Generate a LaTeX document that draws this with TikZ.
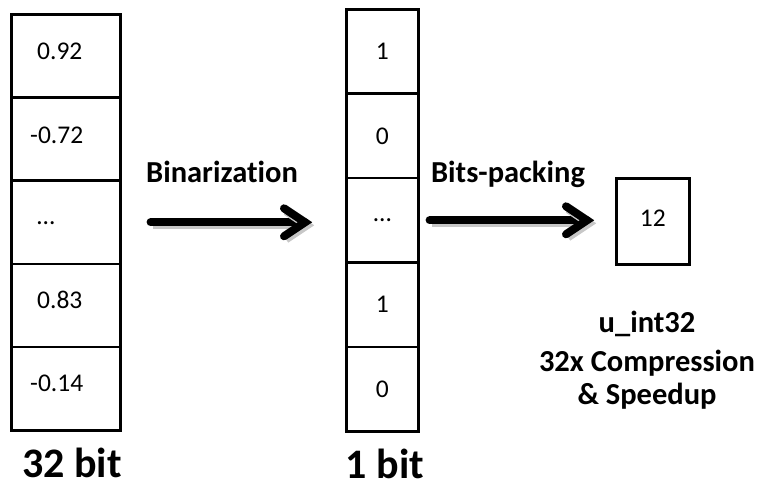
\documentclass[tikz,border=0pt]{standalone}
\usepackage{fontspec}
\setmainfont[Ligatures=NoCommon]{Carlito}
\usetikzlibrary{calc}
\begin{document}
\begin{tikzpicture}[x=1pt,y=-1pt,
  lcell/.style={draw, line width=2.6pt, minimum width=109pt, minimum height=83.2pt, inner sep=0pt, anchor=north west},
  mcell/.style={draw, line width=2.6pt, minimum width=72pt, minimum height=84.4pt, inner sep=0pt, anchor=north west, font=\fontsize{25.5}{30}\selectfont},
  pbox/.style={draw, line width=2.6pt, minimum width=73pt, minimum height=86pt, inner sep=0pt, anchor=north west},
  val/.style={inner sep=0pt, anchor=base west, font=\fontsize{25.5}{30}\selectfont},
  lab/.style={inner sep=0pt, anchor=base, font=\fontsize{30.5}{36}\selectfont\bfseries},
  biglab/.style={inner sep=0pt, anchor=base, font=\fontsize{42}{48}\selectfont\bfseries},
  arr/.style={line width=8pt, line cap=round, line join=miter,
    preaction={draw, black!22, line width=8pt, transform canvas={xshift=2pt, yshift=-3pt}}}
]
\useasboundingbox (0,0) rectangle (763,489);
% left column
\node[lcell] (L1) at (10,13) {};
\node[lcell] (L2) at (10,96.2) {};
\node[lcell] (L3) at (10,179.4) {};
\node[lcell] (L4) at (10,262.6) {};
\node[lcell] (L5) at (10,345.8) {};
\node[val] (v1) at ($(L1.west)+(27,4)$) {0.92};
\node[val] (v2) at ($(L2.west)+(20,4)$) {-0.72};
\node[val] (v3) at ($(L3.west)+(27,2)$) {…};
\node[val] (v4) at ($(L4.west)+(27,3)$) {0.83};
\node[val] (v5) at ($(L5.west)+(20,3)$) {-0.14};
% middle column
\node[mcell] (M1) at (345,8) {1};
\node[mcell] (M2) at (345,92.4) {0};
\node[mcell] (M3) at (345,176.8) {…};
\node[mcell] (M4) at (345,261.2) {1};
\node[mcell] (M5) at (345,345.6) {0};
% packed box
\node[pbox] (B) at (615,177) {};
\node[val, anchor=center] (b12) at ($(B.center)+(0,-3)$) {12};
% arrows
\coordinate (a1s) at ($(L3.east)+(29,0)$);
\coordinate (a1x) at ($(M3.west)+(-40,0)$);
\coordinate (a1t) at (a1x |- a1s);
\coordinate (a2s) at ($(M3.east)+(10,0)$);
\coordinate (a2x) at ($(B.west)+(-28,0)$);
\coordinate (a2t) at (a2x |- a2s);
\draw[arr] (a1s) -- (a1t);
\draw[arr] ($(a1t)+(-21,-14)$) -- (a1t) -- ($(a1t)+(-21,14)$);
\draw[arr] (a2s) -- (a2t);
\draw[arr] ($(a2t)+(-21,-14)$) -- (a2t) -- ($(a2t)+(-21,14)$);
% labels
\node[lab] (bin) at (222,183) {Binarization};
\node[lab] (bp) at (508,183) {Bits-packing};
\node[biglab] (b32) at (72,477) {32 bit};
\node[biglab] (b1) at (385,478) {1 bit};
\node[lab] (t1) at (647,332) {u\_int32};
\node[lab] (t2) at (647,371) {32x Compression};
\node[lab] (t3) at (647,404) {\& Speedup};
\end{tikzpicture}
\end{document}
